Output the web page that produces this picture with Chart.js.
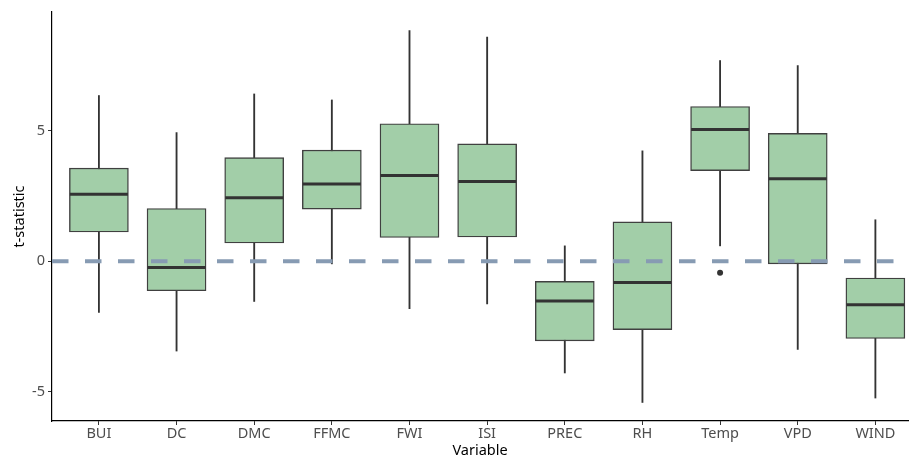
<!DOCTYPE html>
<html lang="en">
<head>
    <meta charset="UTF-8">
    <title>t-statistic by variable</title>
    <script src="https://cdn.jsdelivr.net/npm/chart.js"></script>
    <style>
        body {
            margin: 0;
            background: #fff;
        }
        .grafico {
            width: 912px;
            height: 457px;
        }
    </style>
</head>
<body>
    <div class="grafico">
        <canvas id="boxes"></canvas>
    </div>

    <script>
        // box statistics per variable
        const variables = ['BUI', 'DC', 'DMC', 'FFMC', 'FWI', 'ISI', 'PREC', 'RH', 'Temp', 'VPD', 'WIND'];
        const whiskerLow = [-1.96, -3.44, -1.54, -0.10, -1.82, -1.63, -4.28, -5.41, 0.59, -3.38, -5.24];
        const q1 = [1.12, -1.13, 0.70, 2.00, 0.91, 0.93, -3.05, -2.62, 3.47, -0.10, -2.96];
        const median = [2.57, -0.24, 2.43, 2.96, 3.29, 3.06, -1.52, -0.81, 5.05, 3.16, -1.67];
        const q3 = [3.57, 2.02, 3.97, 4.26, 5.27, 4.50, -0.77, 1.51, 5.93, 4.90, -0.64];
        const whiskerHigh = [6.35, 4.93, 6.41, 6.18, 8.84, 8.59, 0.59, 4.23, 7.69, 7.50, 1.59];
        const outlierVar = ['Temp'];
        const outlierVal = [-0.44];
        const yTicks = [-5, 0, 5];

        const fuente = '"Noto Sans", "DejaVu Sans", sans-serif';

        // median bars and the dashed zero line
        const extras = {
            id: 'extras',
            afterDatasetsDraw(chart) {
                const { ctx, chartArea, scales: { x, y } } = chart;
                ctx.save();
                ctx.strokeStyle = '#333333';
                ctx.lineWidth = 3;
                median.forEach((m, i) => {
                    const cx = x.getPixelForValue(i);
                    const cy = y.getPixelForValue(m);
                    ctx.beginPath();
                    ctx.moveTo(cx - 29, cy);
                    ctx.lineTo(cx + 29, cy);
                    ctx.stroke();
                });
                const y0 = y.getPixelForValue(0);
                ctx.strokeStyle = '#879bb3';
                ctx.lineWidth = 4;
                ctx.setLineDash([16.5, 16.5]);
                ctx.beginPath();
                ctx.moveTo(chartArea.left, y0);
                ctx.lineTo(chartArea.right, y0);
                ctx.stroke();
                ctx.restore();
            }
        };

        const ctx = document.getElementById('boxes').getContext('2d');
        new Chart(ctx, {
            type: 'bar',
            data: {
                datasets: [
                    {
                        label: 'box',
                        order: 0,
                        grouped: false,
                        data: variables.map((v, i) => ({ x: i, y: [q1[i], q3[i]] })),
                        backgroundColor: '#a2cea8',
                        borderColor: '#404040',
                        borderWidth: 1.4,
                        borderSkipped: false,
                        barThickness: 59
                    },
                    {
                        label: 'whisker',
                        order: 1,
                        grouped: false,
                        data: variables.map((v, i) => ({ x: i, y: [whiskerLow[i], whiskerHigh[i]] })),
                        backgroundColor: '#333333',
                        borderWidth: 0,
                        barThickness: 1.2
                    },
                    {
                        type: 'scatter',
                        label: 'outlier',
                        order: 0,
                        data: outlierVar.map((v, i) => ({ x: variables.indexOf(v), y: outlierVal[i] })),
                        backgroundColor: '#333333',
                        borderWidth: 0,
                        pointRadius: 3
                    }
                ]
            },
            options: {
                responsive: true,
                maintainAspectRatio: false,
                animation: false,
                layout: { padding: { top: 12, right: 0, bottom: 0, left: 0 } },
                plugins: {
                    legend: { display: false },
                    tooltip: { enabled: false }
                },
                scales: {
                    x: {
                        type: 'linear',
                        offset: false,
                        min: -0.604,
                        max: 10.42,
                        afterBuildTicks: (s) => { s.ticks = variables.map((v, i) => ({ value: i })); },
                        afterFit: (s) => { s.height = 36; },
                        ticks: {
                            callback: (v) => variables[v],
                            autoSkip: false,
                            maxRotation: 0,
                            color: '#4d4d4d',
                            padding: 2,
                            font: { family: fuente, size: 14.5, lineHeight: 1 }
                        },
                        grid: { offset: false, drawOnChartArea: false, drawTicks: true, tickLength: 4, color: '#333333' },
                        border: { display: true, color: '#000000', width: 1.2 },
                        title: {
                            display: true,
                            text: 'Variable',
                            color: '#000000',
                            padding: { top: 0, bottom: -1 },
                            font: { family: fuente, size: 14.5, lineHeight: 1 }
                        }
                    },
                    y: {
                        min: -6.12,
                        max: 9.55,
                        afterBuildTicks: (s) => { s.ticks = yTicks.map(v => ({ value: v })); },
                        afterFit: (s) => { s.width = 52; },
                        ticks: {
                            callback: (v) => String(v),
                            color: '#4d4d4d',
                            padding: 3,
                            font: { family: fuente, size: 14.5, lineHeight: 1 }
                        },
                        grid: { drawOnChartArea: false, drawTicks: true, tickLength: 4, color: '#333333' },
                        border: { display: true, color: '#000000', width: 1.2 },
                        title: {
                            display: true,
                            text: 't-statistic',
                            color: '#000000',
                            padding: { top: 13, bottom: 0 },
                            font: { family: fuente, size: 14.5, lineHeight: 1 }
                        }
                    }
                }
            },
            plugins: [extras]
        });
    </script>
</body>
</html>
